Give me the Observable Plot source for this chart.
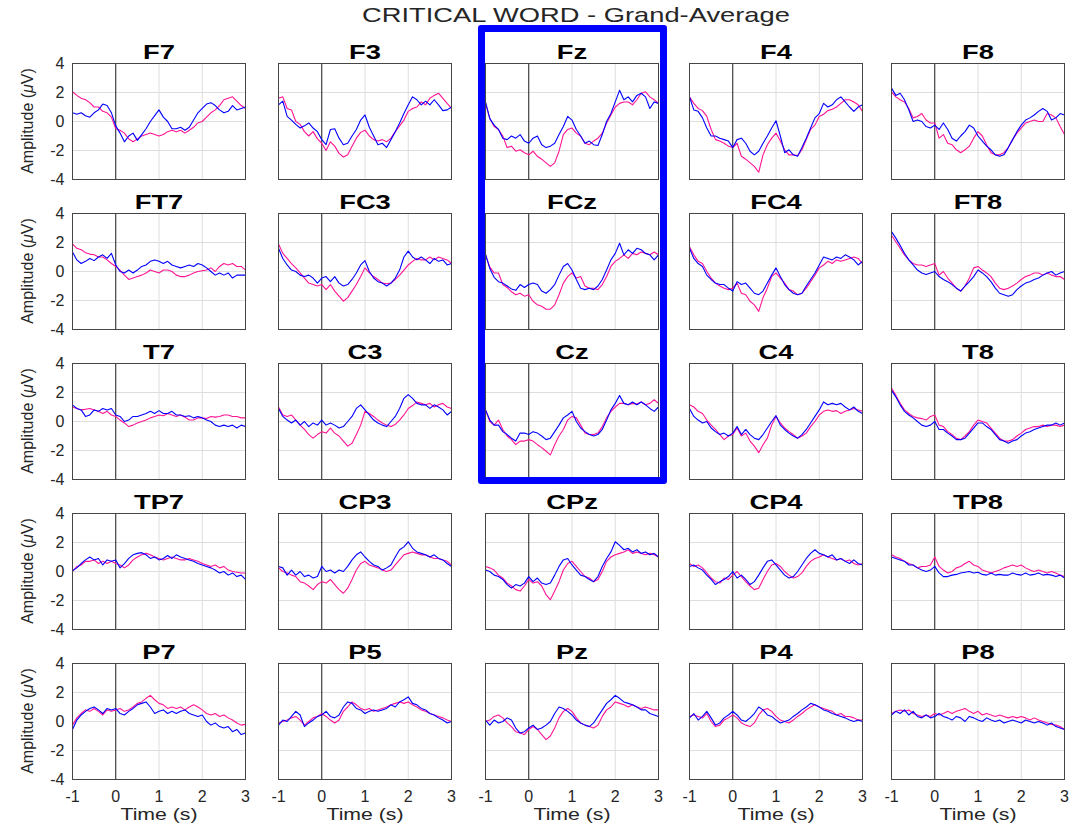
<!DOCTYPE html>
<html><head><meta charset="utf-8">
<script src="https://cdn.jsdelivr.net/npm/d3@7"></script>
<script src="https://cdn.jsdelivr.net/npm/@observablehq/plot@0.6"></script>
<style>
body{margin:0;background:#fff;}
#fig{position:relative;width:1069px;height:824px;overflow:hidden;font-family:"Liberation Sans",Arial,sans-serif;color:#262626;background:#fff;}
.lbl{position:absolute;white-space:nowrap;}
</style></head><body><div id="fig"></div><script>
// ---- data ----
const times = [-1,-0.9,-0.8,-0.7,-0.6,-0.5,-0.4,-0.3,-0.2,-0.1,0,0.1,0.2,0.3,0.4,0.5,0.6,0.7,0.8,0.9,1,1.1,1.2,1.3,1.4,1.5,1.6,1.7,1.8,1.9,2,2.1,2.2,2.3,2.4,2.5,2.6,2.7,2.8,2.9,3];
const channelNames = ["F7","F3","Fz","F4","F8","FT7","FC3","FCz","FC4","FT8","T7","C3","Cz","C4","T8","TP7","CP3","CPz","CP4","TP8","P7","P5","Pz","P4","P8"];
const yTicks = [-4,-2,0,2,4];
const xTicks = [-1,0,1,2,3];
const xGrid = [1,2];
const yGrid = [-2,0,2];
const onset = [0];
const highlighted = ["Fz","FCz","Cz"];

const F7_m = [2.05,1.8,1.6,1.5,1.3,1.0,1.0,0.7,0.6,0.3, -0.5,-0.6,-0.8,-1.2,-1.4,-1.2,-1.0,-0.9,-0.8,-0.9, -1.0,-0.9,-0.7,-0.6,-0.7,-0.6,-0.8,-0.6,-0.4,-0.1, 0.0,0.3,0.6,0.8,1.1,1.5,1.6,1.7,1.4,1.1, 0.9];
const F7_b = [0.6,0.5,0.6,0.4,0.3,0.6,0.8,1.2,1.1,0.6, -0.3,-0.8,-1.4,-1.0,-0.8,-1.3,-0.9,-0.5,0.0,0.4, 0.8,0.3,0.0,-0.5,-0.5,-0.4,-0.6,-0.4,0.1,0.6, 0.9,1.2,1.3,1.1,0.8,0.6,0.7,1.1,0.8,0.9, 1.0];
const F3_m = [1.6,1.7,0.9,0.8,0.0,-0.2,-0.7,-1.0,-0.7,-1.2, -1.5,-2.0,-1.4,-1.7,-2.2,-2.45,-2.3,-1.7,-1.15,-0.75, -0.6,-1.0,-1.25,-1.35,-1.25,-1.4,-1.15,-0.7,-0.3,0.1, 0.7,0.9,1.0,1.35,1.15,1.6,1.8,1.95,1.6,1.25, 0.9];
const F3_b = [1.15,1.4,0.35,0.1,-0.2,-0.45,-0.3,-0.1,-0.45,-0.7, -1.25,-1.6,-0.55,-0.5,-1.15,-1.6,-1.5,-1.0,-0.55,0.1, 0.45,-0.4,-1.0,-1.6,-1.5,-1.8,-1.25,-0.7,-0.1,0.55, 1.15,1.7,1.5,1.15,1.4,1.15,1.5,1.15,0.75,0.8, 1.0];
const Fz_m = [1.25,0.2,-0.35,-0.55,-1.0,-1.8,-1.7,-2.05,-1.95,-2.15, -2.3,-2.05,-2.4,-2.6,-2.85,-3.1,-2.85,-2.05,-0.9,-0.55, -0.45,-0.8,-1.0,-1.5,-1.6,-1.35,-1.15,-0.8,-0.1,0.45, 1.0,1.25,1.35,1.35,1.15,1.5,1.95,2.05,1.7,1.5, 1.25];
const Fz_b = [1.35,0.2,-0.25,-0.55,-1.15,-1.25,-1.0,-1.15,-0.9,-1.35, -1.5,-1.15,-1.0,-1.6,-1.8,-1.7,-1.5,-0.9,-0.35,0.35, 0.1,-0.55,-1.0,-1.5,-1.35,-1.6,-1.65,-0.9,0.0,0.55, 1.35,2.15,1.5,1.7,1.35,1.8,1.95,1.7,0.9,1.35, 1.25];
const F4_m = [1.7,1.25,0.9,0.75,0.35,-0.55,-1.25,-1.35,-1.5,-1.7, -1.8,-1.5,-2.4,-2.6,-2.85,-3.1,-3.5,-2.3,-1.6,-1.15, -0.8,-1.35,-1.95,-2.3,-2.3,-2.35,-1.95,-1.25,-0.55,-0.25, 0.35,0.5,0.75,0.85,1.0,1.25,1.5,1.5,1.35,1.15, 0.7];
const F4_b = [1.7,0.8,0.7,0.25,-0.45,-1.0,-1.0,-1.15,-1.25,-1.35, -1.8,-1.25,-1.15,-1.5,-2.05,-2.3,-2.05,-1.5,-1.0,-0.45, 0.05,-1.0,-2.15,-1.95,-2.3,-2.4,-1.8,-1.15,-0.45,0.25, 0.55,1.25,1.0,1.15,1.5,1.7,1.35,1.0,0.7,1.0, 1.15];
const F8_m = [2.05,1.7,1.5,1.35,0.9,0.25,0.35,0.55,0.1,-0.1, -0.1,-1.15,-0.9,-1.5,-1.6,-1.95,-2.15,-1.95,-1.7,-1.15, -0.7,-1.0,-1.6,-2.15,-2.3,-2.3,-2.15,-1.8,-1.25,-0.8, -0.45,-0.1,0.0,0.1,0.0,0.0,0.55,0.45,0.25,-0.35, -0.9];
const F8_b = [2.3,1.8,1.95,1.5,0.8,0.0,0.1,0.0,-0.35,-0.45, -0.25,-0.55,-0.1,-0.55,-1.15,-1.35,-1.0,-0.7,-0.25,-0.45, -1.0,-1.35,-1.7,-1.95,-2.3,-2.4,-2.3,-1.8,-1.25,-0.7, -0.25,0.1,0.25,0.45,0.7,0.9,0.7,0.1,0.25,0.55, 0.45];
const FT7_m = [1.9,1.6,1.5,1.3,1.2,1.15,1.0,1.0,0.8,0.55, 0.35,0.1,-0.25,-0.55,-0.45,-0.35,-0.25,-0.1,0.1,0.0, -0.1,0.1,0.1,0.0,-0.25,-0.35,-0.35,-0.25,-0.1,0.0, 0.05,0.1,0.25,0.0,0.35,0.55,0.45,0.55,0.35,0.35, 0.1];
const FT7_b = [1.35,0.8,0.55,0.7,0.9,0.75,1.0,1.15,0.9,1.25, 0.45,0.0,-0.1,0.1,-0.1,0.1,0.35,0.45,0.7,0.8, 0.7,0.55,0.7,0.45,0.35,0.25,0.35,0.45,0.35,0.55, 0.45,0.25,0.0,-0.25,-0.1,-0.25,-0.1,-0.45,-0.25,-0.25, -0.25];
const FC3_m = [1.9,1.25,0.9,0.55,0.25,-0.1,-0.45,-0.8,-0.9,-1.0, -0.9,-1.25,-0.9,-1.35,-1.7,-2.05,-1.8,-1.35,-0.9,-0.35, 0.25,-0.1,-0.35,-0.55,-0.8,-0.85,-0.8,-0.55,-0.25,0.1, 0.45,0.7,0.9,0.8,0.8,1.0,0.8,1.0,0.9,0.8, 0.55];
const FC3_b = [1.6,0.9,0.45,0.1,0.0,-0.25,-0.35,-0.25,-0.45,-0.8, -0.45,-0.35,-0.7,-0.35,-0.8,-1.0,-0.9,-0.55,-0.1,0.45, 0.75,0.0,-0.45,-0.7,-0.8,-1.0,-0.8,-0.45,0.1,1.0, 1.4,1.0,0.8,1.0,0.8,0.55,0.9,0.7,0.8,0.45, 0.55];
const FCz_m = [1.15,0.3,-0.1,-0.1,-0.9,-1.1,-1.4,-1.6,-1.5,-1.7, -1.6,-2.05,-2.3,-2.4,-2.6,-2.6,-2.3,-1.6,-0.8,-0.35, -0.1,-0.45,-0.35,-1.0,-1.15,-1.15,-1.25,-0.9,-0.35,0.35, 0.7,0.9,1.15,0.9,1.25,1.15,1.35,1.25,1.15,1.35, 1.15];
const FCz_b = [1.2,0.2,-0.4,-0.7,-0.8,-1.0,-1.2,-1.3,-0.9,-1.1, -0.9,-0.8,-0.9,-1.35,-1.5,-1.25,-0.9,-0.25,0.35,0.55, 0.1,-0.55,-1.15,-1.25,-1.15,-1.25,-1.0,-0.55,0.1,0.8, 1.25,1.95,1.15,1.5,1.25,1.6,1.5,1.25,1.15,0.8, 1.15];
const FC4_m = [1.7,1.15,0.7,0.55,0.0,-0.45,-0.8,-1.0,-1.15,-1.25, -1.15,-0.8,-1.5,-1.6,-2.05,-2.3,-2.75,-1.8,-1.15,-0.35, -0.1,-0.45,-0.8,-1.25,-1.35,-1.6,-1.5,-1.15,-0.7,-0.25, 0.25,0.45,0.7,0.55,0.8,0.7,0.8,0.9,1.0,0.9, 0.55];
const FC4_b = [1.6,0.9,0.55,0.35,-0.25,-0.55,-0.8,-0.9,-0.9,-1.15, -1.35,-0.7,-0.9,-0.8,-1.15,-1.5,-1.6,-1.35,-0.8,-0.25, 0.25,-0.35,-0.9,-1.25,-1.5,-1.6,-1.5,-1.0,-0.55,-0.1, 0.45,1.0,0.9,0.8,1.0,0.9,1.15,1.0,0.8,0.45, 0.7];
const FT8_m = [2.5,2.05,1.6,1.15,0.8,0.55,0.45,0.45,0.35,0.45, 0.55,-0.25,0.0,-0.45,-0.8,-1.15,-1.35,-1.0,-0.45,0.25, 0.35,0.1,-0.1,-0.35,-0.8,-1.15,-1.25,-1.15,-1.0,-0.8, -0.55,-0.35,-0.25,-0.1,-0.1,-0.25,-0.1,-0.25,-0.35,-0.35, -0.55];
const FT8_b = [2.75,2.3,1.8,1.25,0.8,0.45,0.1,-0.1,-0.2,-0.1, 0.0,-0.35,-0.55,-0.7,-0.9,-1.15,-1.35,-1.0,-0.7,-0.35, 0.1,-0.1,-0.35,-0.7,-1.15,-1.5,-1.6,-1.7,-1.6,-1.25, -1.0,-0.8,-0.7,-0.55,-0.45,-0.25,-0.1,0.0,-0.25,-0.1, 0.0];
const T7_m = [1.0,0.9,0.8,0.85,0.9,0.8,0.7,0.55,0.7,0.45, 0.35,0.1,-0.1,-0.35,-0.25,-0.1,0.0,0.1,0.25,0.35, 0.45,0.4,0.55,0.45,0.35,0.45,0.3,0.1,0.1,0.25, 0.25,0.2,0.35,0.3,0.35,0.45,0.45,0.35,0.35,0.25, 0.25];
const T7_b = [1.15,0.9,0.8,0.35,0.45,0.8,0.7,0.9,0.8,0.9, 0.45,0.35,0.0,0.1,0.35,0.35,0.45,0.55,0.7,0.55, 0.75,0.55,0.55,0.7,0.45,0.45,0.35,0.4,0.25,0.35, 0.25,0.1,0.0,-0.25,-0.35,-0.25,-0.35,-0.25,-0.45,-0.25, -0.35];
const C3_m = [1.0,0.45,0.35,0.45,0.1,-0.25,-0.55,-0.9,-1.15,-0.9, -0.7,-0.8,-0.45,-0.8,-1.0,-1.35,-1.7,-1.5,-0.9,-0.25, 0.7,0.55,0.35,0.1,-0.1,-0.25,-0.35,-0.2,0.1,0.45, 0.9,1.1,1.35,1.25,1.15,1.25,1.0,1.15,1.25,1.0, 0.9];
const C3_b = [0.9,0.35,0.1,-0.1,0.1,-0.25,0.0,-0.35,-0.1,-0.25, 0.1,-0.25,-0.1,-0.25,-0.45,-0.35,0.0,0.35,0.9,1.15, 0.8,0.45,0.1,-0.1,-0.25,-0.35,0.0,0.35,0.9,1.6, 1.85,1.6,1.25,1.15,1.15,0.9,1.15,1.0,0.8,0.45, 0.7];
const Cz_m = [0.8,0.0,-0.25,0.1,-0.55,-1.0,-1.25,-1.6,-1.35,-1.35, -1.25,-1.35,-1.6,-1.8,-2.05,-2.3,-1.6,-1.0,-0.55,0.1, 0.35,0.25,-0.25,-0.8,-0.9,-0.9,-0.8,-0.35,0.25,0.7, 1.0,1.25,1.25,1.15,1.25,1.2,1.35,1.15,1.25,1.5, 1.25];
const Cz_b = [0.8,0.1,-0.25,-0.25,-0.7,-0.9,-1.15,-1.35,-0.8,-0.8, -0.9,-0.7,-0.8,-1.0,-1.25,-1.15,-0.7,-0.25,0.25,0.45, 0.7,0.0,-0.45,-0.7,-0.9,-1.0,-0.9,-0.55,0.1,0.8, 1.25,1.8,1.25,1.15,1.35,1.15,1.35,1.15,0.9,0.7, 1.0];
const C4_m = [1.15,1.0,0.7,0.55,0.1,-0.25,-0.55,-0.9,-1.25,-1.0, -0.9,-0.45,-1.0,-0.8,-1.35,-1.7,-2.15,-1.6,-1.15,-0.25, 0.35,-0.1,-0.45,-0.7,-0.9,-1.15,-1.0,-0.8,-0.35,0.0, 0.45,0.7,0.8,0.7,0.75,0.55,0.7,0.8,0.9,0.8, 0.7];
const C4_b = [0.9,0.35,0.1,-0.1,0.0,-0.45,-0.7,-0.9,-0.8,-1.0, -0.8,-0.35,-0.9,-0.55,-0.9,-1.15,-1.25,-0.9,-0.45,0.0, 0.4,-0.25,-0.55,-0.8,-1.0,-1.15,-0.9,-0.55,-0.1,0.35, 0.8,1.35,1.15,1.25,1.15,1.25,1.0,0.8,1.0,0.7, 0.55];
const T8_m = [2.3,1.8,1.25,0.8,0.55,0.35,0.25,0.2,0.1,0.35, 0.45,-0.25,-0.35,-0.7,-0.9,-1.15,-1.25,-1.0,-0.7,-0.25, 0.1,0.0,-0.1,-0.45,-0.8,-1.15,-1.35,-1.35,-1.25,-1.0, -0.8,-0.55,-0.45,-0.35,-0.35,-0.25,-0.35,-0.25,-0.25,-0.35, -0.25];
const T8_b = [2.15,1.7,1.15,0.7,0.45,0.25,0.0,-0.25,-0.35,-0.25, 0.0,-0.55,-0.55,-0.8,-1.0,-1.25,-1.25,-1.15,-0.8,-0.45, -0.1,-0.1,-0.35,-0.55,-0.9,-1.25,-1.35,-1.5,-1.35,-1.25, -1.0,-0.8,-0.7,-0.55,-0.45,-0.35,-0.25,-0.25,-0.1,-0.25, -0.1];
const TP7_m = [0.0,0.35,0.45,0.7,0.7,0.8,0.55,0.7,0.55,0.7, 0.55,0.45,0.25,0.45,0.8,1.0,1.15,1.25,1.15,1.0, 0.9,0.8,0.9,1.0,0.9,0.8,0.8,0.9,0.8,0.7, 0.55,0.45,0.35,0.45,0.25,0.35,0.1,0.0,-0.05,-0.1, -0.1];
const TP7_b = [0.05,0.25,0.55,0.8,1.0,0.8,0.9,0.45,0.8,0.7, 0.8,0.25,0.55,0.9,1.15,1.25,1.3,1.15,0.9,1.0, 0.8,0.9,1.1,0.9,1.15,1.0,0.9,0.8,0.7,0.55, 0.45,0.35,0.25,0.1,-0.1,0.0,-0.25,-0.1,-0.35,-0.25, -0.55];
const CP3_m = [0.25,0.0,-0.1,-0.25,-0.35,-0.7,-0.8,-1.0,-1.25,-0.9, -0.7,-0.8,-0.55,-0.9,-1.25,-1.5,-1.15,-0.55,0.1,0.55, 0.7,0.45,0.35,0.25,0.1,0.0,0.1,0.45,0.8,1.15, 1.25,1.35,1.25,1.15,1.15,1.0,0.9,0.9,0.8,0.7, 0.45];
const CP3_b = [0.35,0.25,-0.25,0.1,-0.25,0.0,-0.35,-0.25,-0.45,-0.35, 0.35,0.0,0.1,-0.1,0.1,0.0,0.35,0.8,1.15,1.35, 1.0,0.7,0.45,0.35,0.1,0.25,0.45,1.0,1.5,1.7, 2.05,1.6,1.35,1.25,1.15,1.0,1.15,0.9,0.8,0.55, 0.35];
const CPz_m = [0.35,0.25,0.1,-0.25,-0.45,-0.8,-1.0,-1.25,-1.35,-1.0, -0.55,-0.8,-0.7,-1.0,-1.6,-1.95,-1.35,-0.7,0.1,0.55, 0.7,0.35,0.0,-0.35,-0.45,-0.7,-0.55,0.0,0.7,1.0, 1.15,1.25,1.35,1.5,1.25,1.35,1.25,1.15,1.25,1.15, 1.0];
const CPz_b = [0.1,0.0,-0.25,-0.35,-0.55,-0.9,-1.15,-0.9,-1.0,-0.8, -0.35,-0.7,-0.45,-0.8,-0.9,-0.8,-0.25,0.35,0.8,0.9, 0.45,0.1,-0.25,-0.35,-0.55,-0.7,-0.35,0.35,0.9,1.35, 2.05,1.8,1.5,1.6,1.35,1.5,1.25,1.35,1.15,1.25, 1.0];
const CP4_m = [0.55,0.35,0.45,0.25,-0.1,-0.45,-0.7,-0.8,-0.45,-0.55, -0.25,0.0,-0.35,-0.7,-1.0,-1.25,-1.15,-0.55,0.0,0.45, 0.55,0.35,0.0,-0.25,-0.45,-0.35,-0.1,0.35,0.7,0.9, 1.0,1.15,1.0,0.9,0.8,0.9,0.7,0.8,0.55,0.45, 0.55];
const CP4_b = [0.35,0.45,0.25,0.1,-0.25,-0.55,-0.9,-0.7,-0.55,-0.35, 0.0,-0.45,-0.25,-0.55,-0.9,-0.7,-0.25,0.25,0.7,0.8, 0.45,0.1,-0.25,-0.45,-0.35,0.0,0.45,0.9,1.25,1.5, 1.25,1.15,1.0,1.15,0.8,0.9,0.7,0.55,0.8,0.55, 0.45];
const TP8_m = [1.15,1.0,0.9,0.7,0.55,0.45,0.25,0.35,0.35,0.45, 1.0,0.35,0.1,-0.1,0.0,0.25,0.35,0.55,0.7,0.45, 0.35,0.1,0.0,-0.1,0.0,0.1,0.25,0.35,0.45,0.35, 0.45,0.25,0.1,0.0,0.1,0.0,-0.1,0.0,-0.1,-0.25, -0.35];
const TP8_b = [1.0,0.9,0.8,0.7,0.45,0.45,0.25,0.1,0.0,0.1, 0.35,-0.1,-0.35,-0.35,-0.25,-0.2,-0.1,-0.05,0.0,-0.1, -0.05,-0.2,-0.25,-0.1,-0.25,-0.2,-0.25,-0.25,-0.1,-0.2, -0.25,-0.1,-0.25,-0.2,-0.1,-0.25,-0.2,-0.25,-0.35,-0.25, -0.45];
const P7_m = [-0.25,0.25,0.55,0.8,0.7,0.9,0.7,0.45,0.8,0.7, 0.8,0.9,0.7,0.8,1.0,1.25,1.35,1.6,1.8,1.5, 1.25,1.15,0.9,1.0,0.9,1.0,0.8,1.0,1.15,1.0, 0.8,0.55,0.45,0.55,0.35,0.45,0.25,0.1,-0.1,-0.25, -0.2];
const P7_b = [-0.55,0.1,0.45,0.7,0.9,1.0,0.8,0.55,0.9,0.8, 0.9,0.55,0.45,0.7,0.9,1.15,1.25,1.35,1.0,0.55, 0.7,0.8,0.55,0.7,0.55,0.7,0.8,0.55,0.45,0.35, 0.45,0.0,-0.25,-0.1,-0.35,-0.45,-0.35,-0.7,-0.55,-0.9, -0.8];
const P5_m = [-0.1,0.0,0.1,0.25,0.35,0.1,-0.25,0.0,0.25,0.35, 0.55,0.35,0.1,-0.1,0.1,0.7,1.0,1.35,1.15,0.9, 0.8,0.9,0.7,0.8,0.9,1.0,1.15,1.25,1.35,1.25, 1.35,1.15,1.0,0.8,0.7,0.55,0.45,0.35,0.25,0.1, 0.0];
const P5_b = [-0.25,0.1,0.0,0.35,0.7,0.45,-0.35,-0.1,0.1,0.35, 0.45,0.7,0.35,0.25,0.45,1.0,1.35,1.25,0.9,0.8, 0.55,0.7,0.8,0.7,0.8,0.9,1.15,1.0,1.35,1.5, 1.7,1.25,1.15,0.9,0.8,0.55,0.45,0.25,0.1,-0.1, 0.0];
const Pz_m = [0.0,0.1,0.35,0.45,0.25,-0.1,-0.35,-0.7,-0.8,-0.9, -0.55,-0.35,-0.55,-0.9,-1.25,-1.0,-0.45,0.25,0.7,0.9, 0.7,0.25,-0.1,-0.25,-0.35,-0.45,-0.25,0.35,0.8,1.0, 1.35,1.25,1.15,1.0,1.15,1.0,0.9,1.0,0.9,0.8, 0.8];
const Pz_b = [0.1,-0.25,0.1,-0.1,0.0,0.25,0.1,-0.45,-0.8,-0.7, -0.45,-0.25,-0.55,-0.45,-0.25,0.0,0.55,1.0,0.9,0.7, 0.45,0.1,-0.1,-0.25,-0.35,-0.1,0.35,0.8,1.25,1.5, 1.8,1.6,1.35,1.25,1.15,1.0,0.8,0.8,0.55,0.45, 0.35];
const P4_m = [0.35,0.45,0.35,0.25,0.55,0.0,-0.35,-0.25,0.1,0.25, 0.45,0.25,-0.1,-0.25,-0.35,-0.1,0.45,0.8,0.9,0.7, 0.35,0.1,0.0,-0.1,0.1,0.35,0.55,0.8,1.0,1.15, 1.0,0.9,0.8,0.7,0.45,0.55,0.35,0.35,0.25,0.1, 0.1];
const P4_b = [0.25,0.55,0.1,0.35,0.7,0.25,-0.25,-0.1,0.25,0.45, 0.7,0.45,0.1,0.0,0.25,0.55,1.0,0.8,0.45,0.35, 0.1,-0.1,0.0,0.1,0.35,0.55,0.8,1.0,1.25,1.15, 1.0,0.8,0.7,0.55,0.45,0.35,0.25,0.1,0.0,0.1, 0.0];
const P8_m = [0.55,0.7,0.8,0.7,0.8,0.55,0.45,0.35,0.45,0.35, 0.55,0.45,0.55,0.7,0.55,0.7,0.8,0.9,0.7,0.55, 0.7,0.45,0.55,0.45,0.35,0.45,0.35,0.25,0.35,0.25, 0.35,0.25,0.1,0.25,0.1,0.0,-0.1,-0.2,-0.25,-0.35, -0.55];
const P8_b = [0.45,0.7,0.55,0.8,0.45,0.7,0.35,0.25,0.45,0.25, 0.35,0.55,0.35,0.25,0.1,0.35,0.25,0.0,0.35,0.25, 0.1,0.0,0.25,0.1,0.0,0.1,-0.1,0.0,0.1,0.0, -0.1,0.1,0.0,-0.1,0.0,-0.1,-0.25,-0.1,-0.35,-0.45, -0.55];

// lookup table built from the arrays above
const series = {
  F7:[F7_b,F7_m], F3:[F3_b,F3_m], Fz:[Fz_b,Fz_m], F4:[F4_b,F4_m], F8:[F8_b,F8_m],
  FT7:[FT7_b,FT7_m], FC3:[FC3_b,FC3_m], FCz:[FCz_b,FCz_m], FC4:[FC4_b,FC4_m], FT8:[FT8_b,FT8_m],
  T7:[T7_b,T7_m], C3:[C3_b,C3_m], Cz:[Cz_b,Cz_m], C4:[C4_b,C4_m], T8:[T8_b,T8_m],
  TP7:[TP7_b,TP7_m], CP3:[CP3_b,CP3_m], CPz:[CPz_b,CPz_m], CP4:[CP4_b,CP4_m], TP8:[TP8_b,TP8_m],
  P7:[P7_b,P7_m], P5:[P5_b,P5_m], Pz:[Pz_b,Pz_m], P4:[P4_b,P4_m], P8:[P8_b,P8_m]
};

// ---- layout ----
const fig = document.getElementById("fig");
const colLeft = [72, 278, 485, 689, 891];
const rowTop = [63, 213, 363, 513, 663];
const PW = 173, PH = 116;
const ML = 40, MR = 4, MT = 4, MB = 30;
const FONT = '"Liberation Sans", Arial, sans-serif';

function addLabel(html, left, top, css) {
  const d = document.createElement("div");
  d.className = "lbl";
  d.innerHTML = html;
  d.style.left = left + "px";
  d.style.top = top + "px";
  Object.assign(d.style, css);
  fig.appendChild(d);
  return d;
}

// main title
addLabel("CRITICAL WORD - Grand-Average", 576, 4, {fontSize: "21px", lineHeight: "21px", color: "#262626", transform: "translateX(-50%) scaleX(1.3)"});

channelNames.forEach((name, i) => {
  const r = Math.floor(i / 5), c = i % 5;
  const [blue, pink] = series[name];
  const blueRows = times.map((t, k) => ({t, v: blue[k]}));
  const pinkRows = times.map((t, k) => ({t, v: pink[k]}));
  const svg = Plot.plot({
    width: PW + ML + MR, height: PH + MT + MB,
    marginLeft: ML, marginRight: MR, marginTop: MT, marginBottom: MB,
    style: {background: "transparent", fontFamily: FONT, fontSize: "16px", color: "#262626", overflow: "visible"},
    x: {domain: [-1, 3], ticks: xTicks, tickSize: 0, tickPadding: 11, axis: r === 4 ? "bottom" : null, label: null, tickFormat: d => String(d)},
    y: {domain: [-4, 4], ticks: yTicks, tickSize: 0, tickPadding: 8, axis: c === 0 ? "left" : null, label: null, tickFormat: d => String(d)},
    marks: [
      Plot.ruleX(xGrid, {stroke: "#dedede", strokeWidth: 1}),
      Plot.ruleY(yGrid, {stroke: "#dedede", strokeWidth: 1}),
      Plot.ruleX(onset, {stroke: "#1a1a1a", strokeWidth: 1}),
      Plot.line(pinkRows, {x: "t", y: "v", stroke: "#ff1493", strokeWidth: 1.1}),
      Plot.line(blueRows, {x: "t", y: "v", stroke: "#0000ff", strokeWidth: 1.1}),
      Plot.frame({stroke: "#454545", strokeWidth: 1})
    ]
  });
  svg.style.position = "absolute";
  svg.style.left = (colLeft[c] - ML) + "px";
  svg.style.top = (rowTop[r] - MT) + "px";
  fig.appendChild(svg);

  // panel title
  addLabel(name, colLeft[c] + PW / 2, rowTop[r] - 22, {fontSize: "21px", lineHeight: "21px", fontWeight: "bold", color: "#000", transform: "translateX(-50%) scaleX(1.3)"});

  if (c === 0) {
    addLabel("Amplitude (<i>μ</i>V)", 28, rowTop[r] + PH / 2, {fontSize: "16px", lineHeight: "16px", color: "#262626", transform: "translate(-50%,-50%) rotate(-90deg)"});
  }
  if (r === 4) {
    addLabel("Time (s)", colLeft[c] + PW / 2, 806, {fontSize: "17px", lineHeight: "17px", color: "#262626", transform: "translateX(-50%) scaleX(1.25)"});
  }
});

// highlight box around the midline channels (Fz, FCz, Cz)
const hiIdx = highlighted.map(n => channelNames.indexOf(n));
const hiCol = hiIdx[0] % 5;
const hiRows = hiIdx.map(k => Math.floor(k / 5));
const box = document.createElement("div");
Object.assign(box.style, {
  position: "absolute",
  left: (colLeft[hiCol] - 7) + "px",
  top: (rowTop[Math.min(...hiRows)] - 38) + "px",
  width: (PW + 16) + "px",
  height: (rowTop[Math.max(...hiRows)] + PH + 5 - (rowTop[Math.min(...hiRows)] - 38)) + "px",
  border: "7px solid #0000ff",
  borderRadius: "3px",
  boxSizing: "border-box"
});
fig.appendChild(box);
</script></body></html>
